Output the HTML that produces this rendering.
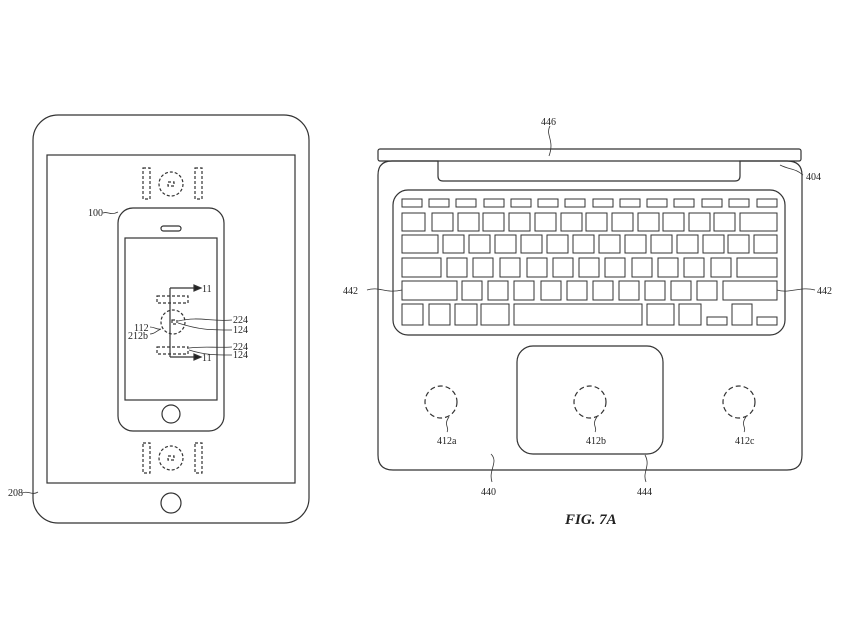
<!DOCTYPE html>
<html><head><meta charset="utf-8"><style>
html,body{margin:0;padding:0;background:#fff;}
svg{display:block;}
text{font-family:"Liberation Serif",serif;font-size:10px;fill:#222;stroke:none;}
</style></head><body>
<svg width="852" height="639" viewBox="0 0 852 639" xmlns="http://www.w3.org/2000/svg" fill="none" stroke="#333" stroke-width="1.2">
<!-- Tablet -->
<rect x="33" y="115" width="276" height="408" rx="25"/>
<rect x="47" y="155" width="248" height="328"/>
<circle cx="171" cy="503" r="10"/>
<g stroke-dasharray="3,2">
<rect x="143" y="168" width="7" height="31"/><rect x="195" y="168" width="7" height="31"/>
<circle cx="171" cy="184" r="12"/><rect x="168" y="182" width="6" height="4"/>
<rect x="143" y="443" width="7" height="30"/><rect x="195" y="443" width="7" height="30"/>
<circle cx="171" cy="458" r="12"/><rect x="168" y="456" width="6" height="4"/>
</g>
<!-- Phone -->
<rect x="118" y="208" width="106" height="223" rx="15"/>
<rect x="161" y="226" width="20" height="5" rx="2.5"/>
<rect x="125" y="238" width="92" height="162"/>
<circle cx="171" cy="414" r="9"/>
<path d="M170 288 V357 M170 288 H196 M170 357 H196"/>
<path d="M194 285 L201 288 L194 291Z M194 354 L201 357 L194 360Z" fill="#222"/>
<g stroke-dasharray="3,2">
<rect x="157" y="296" width="31" height="7"/><rect x="157" y="347" width="31" height="7"/>
<circle cx="173" cy="322" r="12"/><rect x="172" y="320" width="5" height="4"/>
</g>
<path stroke-width="0.8" d="M178 321 C200 316,210 322,232 320 M178 323 C200 330,210 330,232 330 M189 348 C205 346,215 348,232 347 M189 350 C205 355,215 355,232 355 M150 327 C155 327,157 330,161 329 M150 334 C155 334,156 331,161 329 M103 213 C108 211,110 216,118 212 M22 493 C28 490,32 496,38 492"/>
<text x="202" y="292">11</text><text x="202" y="361">11</text>
<text x="233" y="323" font-size="9">224</text><text x="233" y="333" font-size="9">124</text>
<text x="233" y="350" font-size="9">224</text><text x="233" y="358" font-size="9">124</text>
<text x="134" y="331" font-size="9">112</text><text x="128" y="339" font-size="9">212b</text>
<text x="88" y="216" font-size="9">100</text>
<text x="8" y="496" font-size="9">208</text>
<!-- Laptop -->
<rect x="378" y="149" width="423" height="12" rx="2"/>
<path d="M378 175 Q378 161 392 161 H438 V176 Q438 181 443 181 H735 Q740 181 740 176 V161 H787 Q802 161 802 175 V455 Q802 470 787 470 H393 Q378 470 378 455 Z"/>
<rect x="393" y="190" width="392" height="145" rx="15"/>
<g stroke-width="1">
<rect x="402" y="199" width="20" height="8"/><rect x="429" y="199" width="20" height="8"/><rect x="456" y="199" width="20" height="8"/><rect x="484" y="199" width="20" height="8"/><rect x="511" y="199" width="20" height="8"/><rect x="538" y="199" width="20" height="8"/><rect x="565" y="199" width="20" height="8"/><rect x="593" y="199" width="20" height="8"/><rect x="620" y="199" width="20" height="8"/><rect x="647" y="199" width="20" height="8"/><rect x="674" y="199" width="20" height="8"/><rect x="702" y="199" width="20" height="8"/><rect x="729" y="199" width="20" height="8"/><rect x="757" y="199" width="20" height="8"/>
<rect x="402" y="213" width="23" height="18"/>
<rect x="432" y="213" width="21" height="18"/><rect x="458" y="213" width="21" height="18"/><rect x="483" y="213" width="21" height="18"/><rect x="509" y="213" width="21" height="18"/><rect x="535" y="213" width="21" height="18"/><rect x="561" y="213" width="21" height="18"/><rect x="586" y="213" width="21" height="18"/><rect x="612" y="213" width="21" height="18"/><rect x="638" y="213" width="21" height="18"/><rect x="663" y="213" width="21" height="18"/><rect x="689" y="213" width="21" height="18"/><rect x="714" y="213" width="21" height="18"/>
<rect x="740" y="213" width="37" height="18"/>
<rect x="402" y="235" width="36" height="18"/>
<rect x="443" y="235" width="21" height="18"/><rect x="469" y="235" width="21" height="18"/><rect x="495" y="235" width="21" height="18"/><rect x="521" y="235" width="21" height="18"/><rect x="547" y="235" width="21" height="18"/><rect x="573" y="235" width="21" height="18"/><rect x="599" y="235" width="21" height="18"/><rect x="625" y="235" width="21" height="18"/><rect x="651" y="235" width="21" height="18"/><rect x="677" y="235" width="21" height="18"/><rect x="703" y="235" width="21" height="18"/><rect x="728" y="235" width="21" height="18"/>
<rect x="754" y="235" width="23" height="18"/>
<rect x="402" y="258" width="39" height="19"/>
<rect x="447" y="258" width="20" height="19"/><rect x="473" y="258" width="20" height="19"/><rect x="500" y="258" width="20" height="19"/><rect x="527" y="258" width="20" height="19"/><rect x="553" y="258" width="20" height="19"/><rect x="579" y="258" width="20" height="19"/><rect x="605" y="258" width="20" height="19"/><rect x="632" y="258" width="20" height="19"/><rect x="658" y="258" width="20" height="19"/><rect x="684" y="258" width="20" height="19"/><rect x="711" y="258" width="20" height="19"/>
<rect x="737" y="258" width="40" height="19"/>
<rect x="402" y="281" width="55" height="19"/>
<rect x="462" y="281" width="20" height="19"/><rect x="488" y="281" width="20" height="19"/><rect x="514" y="281" width="20" height="19"/><rect x="541" y="281" width="20" height="19"/><rect x="567" y="281" width="20" height="19"/><rect x="593" y="281" width="20" height="19"/><rect x="619" y="281" width="20" height="19"/><rect x="645" y="281" width="20" height="19"/><rect x="671" y="281" width="20" height="19"/><rect x="697" y="281" width="20" height="19"/>
<rect x="723" y="281" width="54" height="19"/>
<rect x="402" y="304" width="21" height="21"/><rect x="429" y="304" width="21" height="21"/><rect x="455" y="304" width="22" height="21"/><rect x="481" y="304" width="28" height="21"/>
<rect x="514" y="304" width="128" height="21"/>
<rect x="647" y="304" width="27" height="21"/><rect x="679" y="304" width="22" height="21"/>
<rect x="707" y="317" width="20" height="8"/><rect x="732" y="304" width="20" height="21"/><rect x="757" y="317" width="20" height="8"/>
</g>
<rect x="517" y="346" width="146" height="108" rx="16"/>
<g stroke-dasharray="5,3"><circle cx="441" cy="402" r="16"/><circle cx="590" cy="402" r="16"/><circle cx="739" cy="402" r="16"/></g>
<path stroke-width="0.8" d="M550 126 C545 135,555 140,549 156 M780 165 C790 170,795 168,803 175 M367 290 C380 286,385 294,402 290 M777 290 C790 294,800 286,815 290 M449 417 C443 425,450 428,447 432 M597 417 C591 425,598 428,595 432 M746 417 C740 425,747 428,744 432 M491 454 C499 462,488 470,492 482 M645 455 C651 466,642 472,646 482"/>
<text x="541" y="125">446</text>
<text x="806" y="180">404</text>
<text x="343" y="294">442</text>
<text x="817" y="294">442</text>
<text x="437" y="444">412a</text><text x="586" y="444">412b</text><text x="735" y="444">412c</text>
<text x="481" y="495">440</text><text x="637" y="495">444</text>
<text x="565" y="524" style="font-size:15px;font-weight:bold;font-style:italic">FIG. 7A</text>
</svg>
</body></html>
